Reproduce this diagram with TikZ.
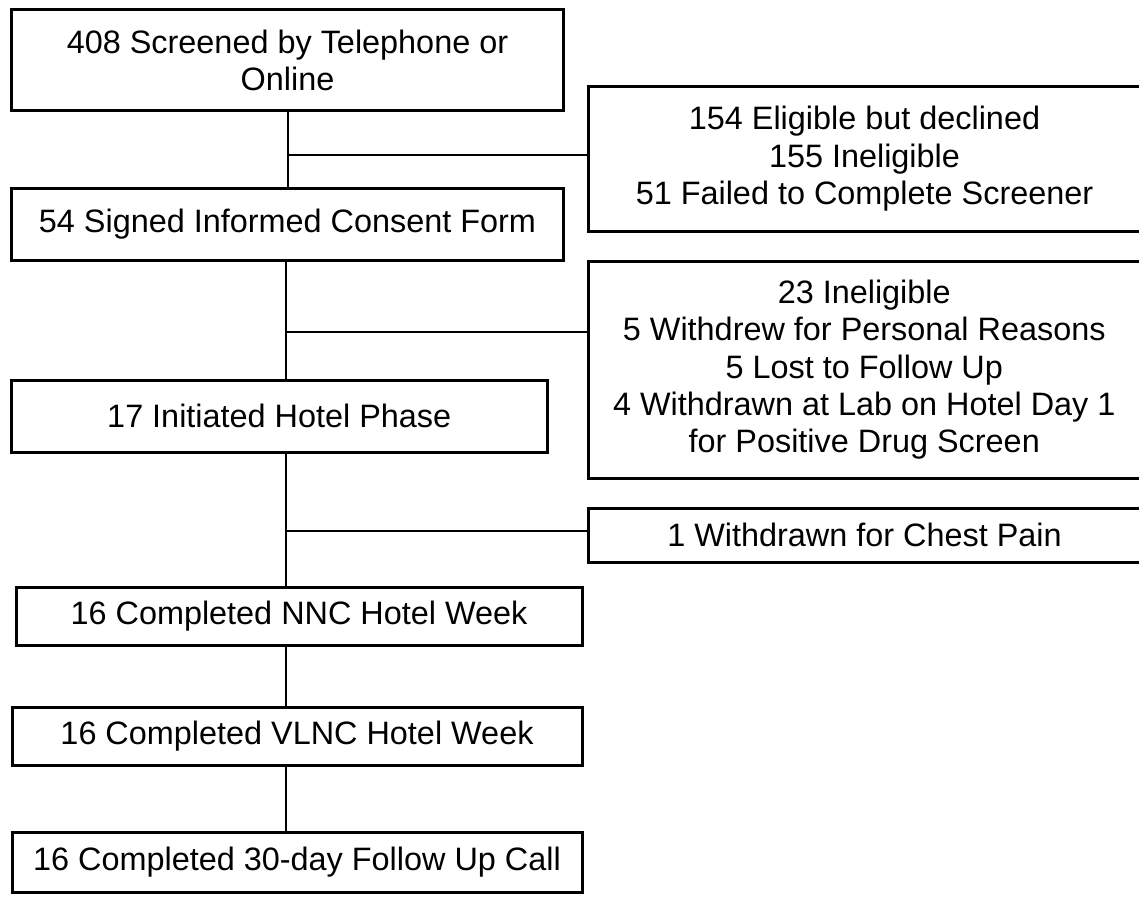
\documentclass[tikz,border=0pt]{standalone}
\usepackage{fontspec}
\setmainfont{Liberation Sans}
\begin{document}
\begin{tikzpicture}[x=0.5pt,y=-0.5pt,
  box/.style={draw=black,line width=1.5pt,rectangle,align=center,inner sep=0pt,
    font=\fontsize{16.2pt}{18.6pt}\selectfont},
  link/.style={draw=black,line width=0.8pt}]
\useasboundingbox (0,0) rectangle (1139,899);
% main column
\node[box,minimum width=276pt,minimum height=50.75pt] (b1) at (287.5,60.25) {408 Screened by Telephone or\\Online};
\node[box,minimum width=276pt,minimum height=36.25pt] (b2) at (287.5,224.25) {54 Signed Informed Consent Form};
\node[box,minimum width=267.75pt,minimum height=36.25pt] (b3) at (279.25,416.25) {17 Initiated Hotel Phase};
\node[box,minimum width=283pt,minimum height=29pt] (b4) at (299,616) {16 Completed NNC Hotel Week};
\node[box,minimum width=285pt,minimum height=29pt] (b5) at (297,736) {16 Completed VLNC Hotel Week};
\node[box,minimum width=285pt,minimum height=30pt] (b6) at (297,862) {16 Completed 30-day Follow Up Call};
% side boxes
\node[box,minimum width=276pt,minimum height=72.25pt] (sA) at (864.5,158.75) {154 Eligible but declined\\155 Ineligible\\51 Failed to Complete Screener};
\node[box,minimum width=276.25pt,minimum height=108.75pt] (sB) at (864.25,369.75) {23 Ineligible\\5 Withdrew for Personal Reasons\\5 Lost to Follow Up\\4 Withdrawn at Lab on Hotel Day 1\\for Positive Drug Screen};
\node[box,minimum width=276pt,minimum height=26.75pt] (sC) at (864.5,535.25) {1 Withdrawn for Chest Pain};
% spine coordinates
\coordinate (s1) at (288,0);
\coordinate (s2) at (286,0);
\coordinate (jA) at (288,155);
\coordinate (jB) at (286,332);
\coordinate (jC) at (286,531);
% connectors
\draw[link] (b1.south -| s1) -- (b2.north -| s1);
\draw[link] (jA) -- (jA -| sA.west);
\draw[link] (b2.south -| s2) -- (b3.north -| s2);
\draw[link] (jB) -- (jB -| sB.west);
\draw[link] (b3.south -| s2) -- (b4.north -| s2);
\draw[link] (jC) -- (jC -| sC.west);
\draw[link] (b4.south -| s2) -- (b5.north -| s2);
\draw[link] (b5.south -| s2) -- (b6.north -| s2);
\end{tikzpicture}
\end{document}
